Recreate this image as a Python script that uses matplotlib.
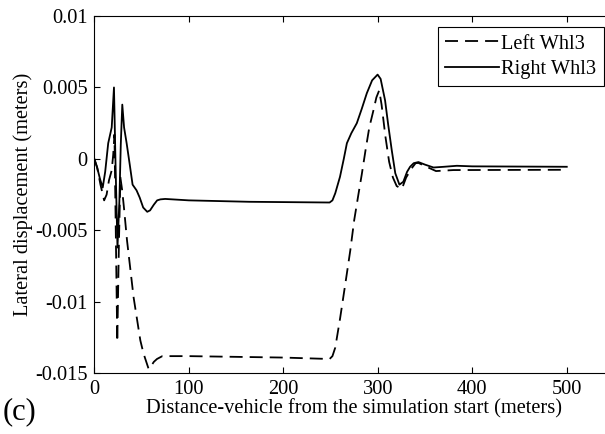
import matplotlib
matplotlib.use("Agg")
import matplotlib.pyplot as plt

# Right Whl3 (solid)
right_x = [0, 3, 6, 8.9, 11.5, 14.7, 18.4, 20.8, 22.5, 24.5, 26.5, 28, 29.6, 31.5,
           34.2, 37.5, 40.5, 44.7, 48, 51.7, 56, 59, 63, 66.5, 70, 75, 100, 164,
           249, 252, 255, 260, 264, 267.3, 272, 277.8, 283, 288.4, 294, 299.8,
           303, 307.7, 311, 314.8, 318.5, 322.9, 327, 331, 334.2, 338, 343, 350,
           359, 370, 383.7, 400, 500]
right_y = [0, -0.0006, -0.0014, -0.0020, -0.0009, 0.0011, 0.0022, 0.0050, -0.0005,
           -0.0062, -0.0030, 0.0010, 0.0038, 0.0022, 0.0011, -0.0004, -0.0018,
           -0.0022, -0.0027, -0.0034, -0.0037, -0.0036, -0.0032, -0.0029, -0.00283,
           -0.0028, -0.0029, -0.0030, -0.00305, -0.0029, -0.0024, -0.00125, 0.0,
           0.0011, 0.0018, 0.0025, 0.0035, 0.0046, 0.0055, 0.0059, 0.0056, 0.0041,
           0.0024, 0.0006, -0.0010, -0.0018, -0.0016, -0.0009, -0.00055, -0.0003,
           -0.00022, -0.0004, -0.0006, -0.00055, -0.00048, -0.00052, -0.00055]

# Left Whl3 (dashed)
left_x = [0, 3, 6.5, 10.4, 13, 15.5, 18.4, 20, 21.3, 22.5, 24.3, 26, 27.6, 29.5,
          31.5, 34.6, 41.6, 48.7, 52, 55, 57.5, 60, 63, 66.3, 72, 100, 200, 249,
          252, 255, 260, 265.5, 270.9, 275, 279.7, 283, 287, 291, 295.4, 298.5,
          301.5, 304, 308, 312, 316, 320, 325.5, 330, 335.7, 340, 343, 350, 361.6,
          380, 500]
left_y = [0, -0.0006, -0.0018, -0.0029, -0.0025, -0.0015, -0.0008, 0.0003, 0.0017,
          -0.0040, -0.0128, -0.0060, -0.0013, -0.0022, -0.0035, -0.0057, -0.0097,
          -0.0127, -0.0136, -0.0142, -0.0147, -0.0145, -0.0142, -0.0140, -0.0138,
          -0.0138, -0.0139, -0.0140, -0.0138, -0.0132, -0.0112, -0.0088, -0.0064,
          -0.0043, -0.0024, -0.0011, 0.0006, 0.0022, 0.0034, 0.0043, 0.0048,
          0.0038, 0.0016, -0.0002, -0.0013, -0.0019, -0.0021, -0.0013, -0.00067,
          -0.0003, -0.00028, -0.0005, -0.00085, -0.00078, -0.00076]

xticks = [0, 100, 200, 300, 400, 500]
yticks = [0.01, 0.005, 0, -0.005, -0.01, -0.015]
ytick_labels = ["0.01", "0.005", "0", "-0.005", "-0.01", "-0.015"]

plt.rcParams['font.family'] = ['Liberation Serif', 'DejaVu Serif']
plt.rcParams['font.size'] = 14.7

fig = plt.figure(figsize=(6.05, 4.34), dpi=100)
ax = fig.add_axes([0.1559, 0.1399, 0.859, 0.8232])

ax.plot(left_x, left_y, color='black', lw=1.3, linestyle=(0, (7.2, 3.9)),
        label='Left Whl3')
ax.plot(right_x, right_y, color='black', lw=1.3, label='Right Whl3')

ax.set_xlim(0, 550)
ax.set_ylim(-0.015, 0.01)
ax.set_xticks(xticks)
ax.set_yticks(yticks)
ax.set_yticklabels(ytick_labels)
ax.tick_params(direction='in', top=True, right=True, length=4, width=0.8, pad=5)
for s in ax.spines.values():
    s.set_linewidth(0.8)

ax.set_xlabel('Distance-vehicle from the simulation start (meters)', labelpad=0)
ax.set_ylabel('Lateral displacement (meters)', labelpad=1)

leg = ax.legend(loc='upper right', bbox_to_anchor=(0.98, 0.969), fancybox=False,
                edgecolor='black', framealpha=1, handlelength=2.65,
                handletextpad=0.12, borderpad=0.35, labelspacing=0.3,
                borderaxespad=0)
leg.get_frame().set_linewidth(0.8)

fig.text(0.005, 0.035, '(c)', fontsize=22)

fig.savefig('out.png', dpi=100)
